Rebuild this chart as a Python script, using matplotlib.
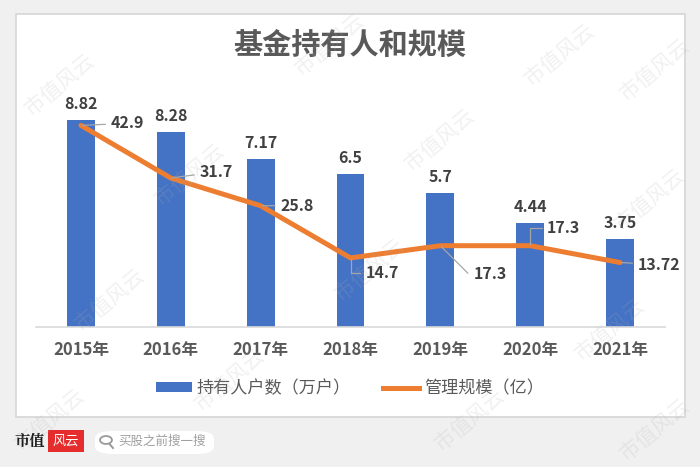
import matplotlib
matplotlib.use("Agg")
import matplotlib.pyplot as plt
from matplotlib.patches import Rectangle, FancyBboxPatch, Patch, Circle
from matplotlib.lines import Line2D

plt.rcParams['font.family'] = ['Noto Sans CJK SC', 'DejaVu Sans']

# ---------------- data ----------------
years = ['2015年', '2016年', '2017年', '2018年', '2019年', '2020年', '2021年']
holders = [8.82, 8.28, 7.17, 6.5, 5.7, 4.44, 3.75]          # 持有人户数（万户）
scale = [42.9, 31.7, 25.8, 14.7, 17.3, 17.3, 13.72]          # 管理规模（亿）
title = '基金持有人和规模'
series_names = ['持有人户数（万户）', '管理规模（亿）']

# label placement for line labels (pixel offsets, connection style)
line_label_offsets = [(30, 2), (29, 6), (20, 0), (15, -15), (33, -28), (17, 18), (18, -2)]
line_label_conn = ['arc3', 'arc3', 'arc3',
                   'angle,angleA=0,angleB=90,rad=0',
                   'angle,angleA=0,angleB=-45,rad=0',
                   'angle,angleA=0,angleB=90,rad=0',
                   'arc3']

W, H = 700, 467
fig = plt.figure(figsize=(W / 100, H / 100), dpi=100)
fig.patch.set_facecolor('#f0f0f0')


def fx(x):
    return x / W


def fy(y):
    return 1 - y / H


# white card
card = Rectangle((fx(16), fy(417)), fx(685) - fx(16), fy(14) - fy(417),
                 transform=fig.transFigure, facecolor='white', edgecolor='#d6d6d6',
                 linewidth=1.2, zorder=-5)
fig.patches.append(card)

# title
fig.text(fx(350), fy(45), title, ha='center', va='center', fontsize=21,
         color='#595959', fontweight='bold')

# axes
ax = fig.add_axes([fx(36), fy(327), fx(665) - fx(36), fy(92) - fy(327)])
ax.set_facecolor('none')
ax2 = ax.twinx()

x = list(range(len(years)))
BLUE = '#4472C4'
ORANGE = '#ED7D31'
TXT = '#404040'

bars = ax.bar(x, holders, width=0.31, color=BLUE, zorder=2)
ax.set_xlim(-0.5, len(years) - 0.5)
ax.set_ylim(0, 10)
ax2.set_ylim(0, 50)

ax2.plot(x, scale, color=ORANGE, linewidth=3.6, solid_capstyle='round',
         solid_joinstyle='round', zorder=3)

for a in (ax, ax2):
    for s in ('top', 'right', 'left'):
        a.spines[s].set_visible(False)
    a.set_yticks([])
ax2.spines['bottom'].set_visible(False)
ax.spines['bottom'].set_color('#d9d9d9')
ax.spines['bottom'].set_linewidth(1.2)
ax.set_xticks(x)
ax.set_xticklabels(years, fontsize=12, fontweight='bold', color='#595959')
ax.tick_params(axis='x', length=0, pad=10)

# bar labels
for xi, v in zip(x, holders):
    ax.annotate(f'{v:g}', (xi, v), xytext=(0, 8), textcoords='offset pixels',
                ha='center', va='bottom', fontsize=11.5, fontweight='bold', color=TXT)

# line labels with leader lines
for xi, v, (dx, dy), cs in zip(x, scale, line_label_offsets, line_label_conn):
    ax2.annotate(f'{v:g}', (xi, v), xytext=(dx, dy), textcoords='offset pixels',
                 ha='left', va='center', fontsize=11.5, fontweight='bold', color=TXT,
                 arrowprops=dict(arrowstyle='-', color='#a6a6a6', lw=0.9,
                                 connectionstyle=cs, shrinkA=2, shrinkB=1),
                 zorder=5)

# legend
handles = [Patch(facecolor=BLUE, edgecolor='none'),
           Line2D([0], [0], color=ORANGE, linewidth=3.6)]
leg = fig.legend(handles, series_names, loc='center', bbox_to_anchor=(fx(350), fy(388)),
                 ncol=2, frameon=False, fontsize=12.3, handlelength=2.1,
                 handleheight=0.5, handletextpad=0.3, columnspacing=1.9)
for t in leg.get_texts():
    t.set_color('#595959')

# watermarks
wm_pos = [(60, 85), (330, 45), (560, 55), (190, 175), (440, 140), (650, 200),
          (110, 300), (370, 270), (610, 330), (230, 380), (470, 420), (50, 420),
          (655, 70), (655, 430)]
for (px, py) in wm_pos:
    fig.text(fx(px), fy(py), '市值风云', rotation=40, ha='center', va='center',
             fontsize=15, color='#b0b0b0', alpha=0.18, zorder=10)

# footer
fig.text(fx(15), fy(441), '市值', ha='left', va='center', fontsize=11,
         fontweight='bold', color='#1a1a1a', family=['Noto Serif CJK SC', 'Noto Sans CJK SC'])
red = Rectangle((fx(48), fy(452)), fx(84) - fx(48), fy(430) - fy(452),
                transform=fig.transFigure, facecolor='#e52d2d', edgecolor='none')
fig.patches.append(red)
fig.text(fx(66), fy(441), '风云', ha='center', va='center', fontsize=9.5,
         color='white', style='italic')
pill = FancyBboxPatch((fx(95), fy(454)), fx(214) - fx(95), fy(431) - fy(454),
                      boxstyle='round,pad=0,rounding_size=0.025',
                      transform=fig.transFigure, facecolor='white', edgecolor='none',
                      mutation_aspect=H / W)
fig.patches.append(pill)
circ = Circle((fx(106), fy(440)), 0.0085, transform=fig.transFigure,
              facecolor='none', edgecolor='#999999', linewidth=1.3)
fig.patches.append(circ)
fig.add_artist(Line2D([fx(109.5), fx(113)], [fy(444), fy(448)], transform=fig.transFigure,
                      color='#999999', linewidth=1.4))
fig.text(fx(118), fy(441), '买股之前搜一搜', ha='left', va='center', fontsize=9,
         color='#a0a0a0')

fig.savefig('out.png', dpi=100, facecolor=fig.get_facecolor())
